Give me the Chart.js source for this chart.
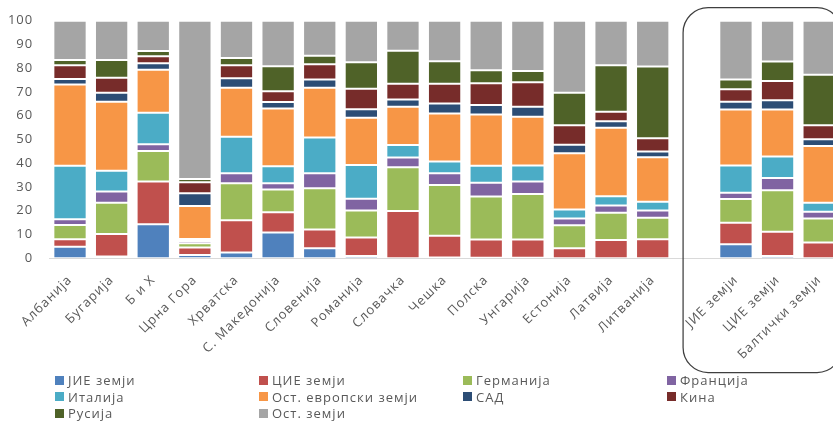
<!DOCTYPE html>
<html>
<head>
<meta charset="utf-8">
<script src="https://cdn.jsdelivr.net/npm/chart.js@4"></script>
<style>
  html, body { margin: 0; padding: 0; background: #fff; overflow: hidden; width: 833px; height: 421px; }
  #wrap { position: relative; width: 833px; height: 421px; overflow: hidden; }
  #c { position: absolute; left: 0; top: 0; }
  #legend {
    position: absolute; left: 55px; top: 372px;
    display: grid; grid-template-columns: repeat(4, 204px);
    font: 13px 'Open Sans', sans-serif; letter-spacing: 1px; color: #595959;
  }
  .item { display: flex; align-items: center; height: 16.6px; white-space: nowrap; }
  .box { width: 9px; height: 9px; margin-right: 4px; flex: none; }
</style>
</head>
<body>
<div id="wrap">
  <canvas id="c" width="860" height="421"></canvas>
  <div id="legend"></div>
</div>
<script>
// Country / group names (empty slot separates the regional aggregates)
const categories = ['Албанија', 'Бугарија', 'Б и Х', 'Црна Гора', 'Хрватска', 'С. Македонија',
  'Словенија', 'Романија', 'Словачка', 'Чешка', 'Полска', 'Унгарија', 'Естонија', 'Латвија',
  'Литванија', '', 'ЈИЕ земји', 'ЦИЕ земји', 'Балтички земји'];

const seriesNames = ['ЈИЕ земји', 'ЦИЕ земји', 'Германија', 'Франција', 'Италија',
  'Ост. европски земји', 'САД', 'Кина', 'Русија', 'Ост. земји'];

const seriesColors = ['#4F81BD', '#C0504D', '#9BBB59', '#8064A2', '#4BACC6',
  '#F79646', '#2C4D75', '#772C2A', '#4F6228', '#A5A5A5'];

// Shares in percent, one value per category
const jieZemji   = [4.9, 0.8, 14.3, 1.4, 2.4, 10.9, 4.2, 1.0, 0, 0.3, 0.2, 0.2, 0, 0, 0, null, 5.9, 1.0, 0];
const cieZemji   = [3.1, 9.4, 18.0, 3.1, 13.6, 8.5, 7.9, 7.8, 19.9, 9.2, 7.7, 7.7, 4.2, 7.7, 8.0, null, 9.1, 10.2, 6.7];
const germanija  = [6.0, 13.2, 12.9, 1.8, 15.6, 9.6, 17.4, 11.3, 18.4, 21.4, 18.1, 19.2, 9.7, 11.5, 9.1, null, 10.0, 17.4, 10.0];
const francija   = [2.4, 4.7, 2.8, 1.0, 4.2, 2.6, 6.3, 5.0, 4.1, 4.9, 5.8, 5.2, 2.8, 3.0, 3.0, null, 2.6, 5.2, 2.9];
const italija    = [22.6, 8.7, 13.3, 0.8, 15.4, 7.1, 15.0, 14.2, 5.3, 4.9, 7.2, 6.8, 3.8, 3.9, 3.7, null, 11.5, 9.0, 3.8];
const ostEvropa  = [34.1, 29.1, 18.1, 13.9, 20.6, 24.3, 21.0, 19.9, 16.1, 20.2, 21.5, 20.5, 23.7, 28.8, 18.7, null, 23.5, 19.8, 23.9];
const sad        = [2.4, 3.8, 2.7, 5.4, 4.0, 2.8, 3.5, 3.5, 3.0, 4.2, 4.0, 4.2, 3.6, 2.8, 2.4, null, 3.3, 3.9, 2.8];
const kina       = [5.7, 6.3, 2.9, 4.6, 5.4, 4.5, 6.4, 8.7, 6.7, 8.4, 9.2, 10.3, 8.2, 4.0, 5.6, null, 5.2, 8.1, 5.9];
const rusija     = [2.3, 7.5, 2.3, 1.4, 3.1, 10.5, 3.6, 11.1, 13.9, 9.4, 5.4, 4.7, 13.7, 19.5, 30.2, null, 4.2, 8.2, 21.3];
const ostZemji   = [16.5, 16.5, 12.7, 66.6, 15.7, 19.2, 14.7, 17.5, 12.6, 17.1, 20.9, 21.2, 30.3, 18.8, 19.3, null, 24.7, 17.2, 22.7];

const yTicks = [0, 10, 20, 30, 40, 50, 60, 70, 80, 90, 100];

const seriesValues = [jieZemji, cieZemji, germanija, francija, italija, ostEvropa, sad, kina, rusija, ostZemji];

const datasets = seriesNames.map((name, i) => ({
  label: name,
  data: seriesValues[i],
  backgroundColor: seriesColors[i],
  borderColor: 'rgba(255,255,255,0.28)',
  borderWidth: 1,
  borderSkipped: false,
  barPercentage: 0.8,
  categoryPercentage: 1.0
}));

// Slightly wider text tracking for all canvas labels
const tracking = {
  id: 'tracking',
  beforeLayout(chart) { chart.ctx.letterSpacing = '1px'; },
  beforeDraw(chart) { chart.ctx.letterSpacing = '1px'; }
};

// Rounded frame around the regional aggregate bars
const groupFrame = {
  id: 'groupFrame',
  afterDraw(chart) {
    const xs = chart.scales.x, area = chart.chartArea, ctx = chart.ctx;
    const slot = xs.getPixelForValue(1) - xs.getPixelForValue(0);
    const left = xs.getPixelForValue(15) - slot * 0.27;
    const right = xs.getPixelForValue(18) + slot * 0.55;
    const top = area.top - 13;
    const bottom = 372.5;
    ctx.save();
    ctx.strokeStyle = '#3f3f3f';
    ctx.lineWidth = 1.25;
    ctx.beginPath();
    ctx.roundRect(left, top, right - left, bottom - top, 25);
    ctx.stroke();
    ctx.restore();
  }
};

const font = { family: "'Open Sans', sans-serif", size: 13 };

const chart = new Chart(document.getElementById('c'), {
  type: 'bar',
  data: { labels: categories, datasets },
  plugins: [tracking, groupFrame],
  options: {
    responsive: false,
    animation: false,
    layout: { padding: { top: 20.7, right: 20, bottom: 0, left: 0 } },
    plugins: { legend: { display: false }, tooltip: { enabled: false } },
    scales: {
      x: {
        stacked: true,
        offset: true,
        grid: { display: true, color: 'rgba(0,0,0,0)', drawTicks: false },
        border: { display: true, color: '#d9d9d9', width: 1 },
        ticks: {
          autoSkip: false, maxRotation: 45, minRotation: 45,
          color: '#595959', font, padding: 14
        },
        afterFit(s) { s.height = 162.7; }
      },
      y: {
        stacked: true,
        min: 0, max: 100,
        afterBuildTicks(s) { s.ticks = yTicks.map(v => ({ value: v })); },
        grid: { display: false, drawTicks: false },
        border: { display: false },
        ticks: { color: '#595959', font, padding: 16 },
        afterFit(s) { s.width = 49.2; s.paddingTop = 0; s.paddingBottom = 0; }
      }
    }
  }
});

// Legend laid out in four columns, built from the chart's datasets
const legendEl = document.getElementById('legend');
chart.data.datasets.forEach(ds => {
  const item = document.createElement('div');
  item.className = 'item';
  const box = document.createElement('span');
  box.className = 'box';
  box.style.background = ds.backgroundColor;
  const txt = document.createElement('span');
  txt.textContent = ds.label;
  item.appendChild(box);
  item.appendChild(txt);
  legendEl.appendChild(item);
});
</script>
</body>
</html>
